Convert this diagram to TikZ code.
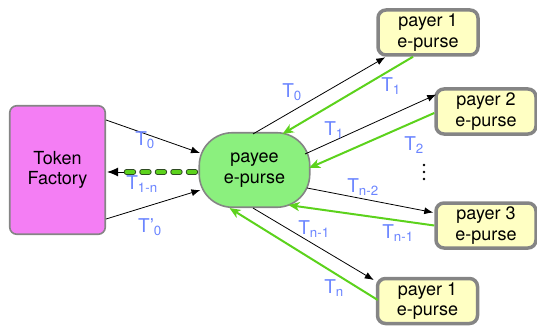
\documentclass[tikz,border=0pt]{standalone}
\usepackage{fontspec}
\setmainfont{TeX Gyre Heros}
\usetikzlibrary{arrows.meta,calc}
\definecolor{tfpink}{HTML}{F47EF4}
\definecolor{pygreen}{HTML}{8BF07E}
\definecolor{pryellow}{HTML}{FFFFC3}
\definecolor{edgegray}{HTML}{858585}
\definecolor{linkgreen}{HTML}{5CD21C}
\definecolor{lblblue}{HTML}{6A84FF}
\definecolor{dashedge}{HTML}{2E4A22}

\begin{document}
\begin{tikzpicture}[x=1pt,y=-1pt,
  box/.style={draw=edgegray, align=center, inner sep=0pt, text=black,
    font=\fontsize{18}{20.5}\selectfont},
  factory/.style={box, fill=tfpink, line width=1.6pt, rounded corners=7pt,
    minimum width=95.5pt, minimum height=128.5pt},
  payee/.style={box, fill=pygreen, line width=1.6pt, rounded corners=33pt,
    minimum width=110.5pt, minimum height=74.5pt},
  payer/.style={box, fill=pryellow, line width=3.5pt, rounded corners=8pt,
    minimum width=100pt, minimum height=45pt},
  blk/.style={draw=black, line width=0.8pt, -{Latex[length=9pt,width=7pt]}},
  grn/.style={draw=linkgreen, line width=2pt, -{Stealth[length=11pt,width=9pt,inset=3pt]}},
  lbl/.style={text=lblblue, inner sep=0pt, font=\fontsize{19}{19}\selectfont},
  dashouter/.style={line width=5.4pt, draw=dashedge, line cap=round, dash pattern=on 7pt off 8.5pt},
  dashinner/.style={line width=3.4pt, draw=linkgreen, line cap=round, dash pattern=on 7pt off 8.5pt},
]
\path[use as bounding box] (0,0) rectangle (537,326);

% parties
\node[factory] (tf) at (57.5,170) {Token\\Factory};
\node[payee]   (py) at (254.5,170) {payee\\e-purse};
\node[payer]   (p1) at (428,32.5)  {payer 1\\e-purse};
\node[payer]   (p2) at (486,111.5) {payer 2\\e-purse};
\node[payer]   (p3) at (486,225.5) {payer 3\\e-purse};
\node[payer]   (p4) at (427.5,301) {payer 1\\e-purse};

% factory <-> payee
\draw[blk] ([shift={(0,-50)}]tf.east) -- ([shift={(1.5,-17)}]py.west);
\coordinate (dbase) at ([shift={(15,2)}]tf.east);
\draw[dashouter] ([shift={(-3,2)}]py.west) -- (dbase);
\draw[dashinner] ([shift={(-3,2)}]py.west) -- (dbase);
\draw[line width=1pt, -{Latex[length=11pt,width=9pt]}] ([shift={(3,0)}]dbase) -- ([shift={(1,2)}]tf.east);
\draw[blk] ([shift={(0,49)}]tf.east) -- ([shift={(2,20)}]py.west);

% payee <-> payers
\draw[blk] ([shift={(-1.5,2)}]py.north) -- ([shift={(9,0.5)}]p1.south west);
\draw[grn] ([shift={(-15,0)}]p1.south) -- ([shift={(28,2)}]py.north);
\draw[blk] ([shift={(-5.5,-16)}]py.east) -- ([shift={(2,-17)}]p2.west);
\draw[grn] ([shift={(0,1.5)}]p2.west) -- ([shift={(-1.5,-2)}]py.east);
\draw[blk] ([shift={(-3.5,18)}]py.east) -- ([shift={(-1,-13)}]p3.west);
\draw[grn] (p3.west) -- ([shift={(34,-3)}]py.south);
\draw[blk] ([shift={(-1.5,0)}]py.south) -- ([shift={(-2,-21)}]p4.west);
\draw[grn] ([shift={(2,-1)}]p4.west) -- ([shift={(-25,0)}]py.south);

% more payers
\fill (424,165) circle (1.4) (424,172) circle (1.4) (424,179) circle (1.4);

% token labels
\node[lbl] (l1)  at (145,140) {T\textsubscript{0}};
\node[lbl] (l2)  at (142,184) {T\textsubscript{1-n}};
\node[lbl] (l3)  at (150,227) {T’\textsubscript{0}};
\node[lbl] (l4)  at (292,92)  {T\textsubscript{0}};
\node[lbl] (l5)  at (391,86)  {T\textsubscript{1}};
\node[lbl] (l6)  at (334,130) {T\textsubscript{1}};
\node[lbl] (l7)  at (414,145) {T\textsubscript{2}};
\node[lbl] (l8)  at (363,187) {T\textsubscript{n-2}};
\node[lbl] (l9)  at (398,233) {T\textsubscript{n-1}};
\node[lbl] (l10) at (314,229) {T\textsubscript{n-1}};
\node[lbl] (l11) at (334,288) {T\textsubscript{n}};
\end{tikzpicture}
\end{document}
